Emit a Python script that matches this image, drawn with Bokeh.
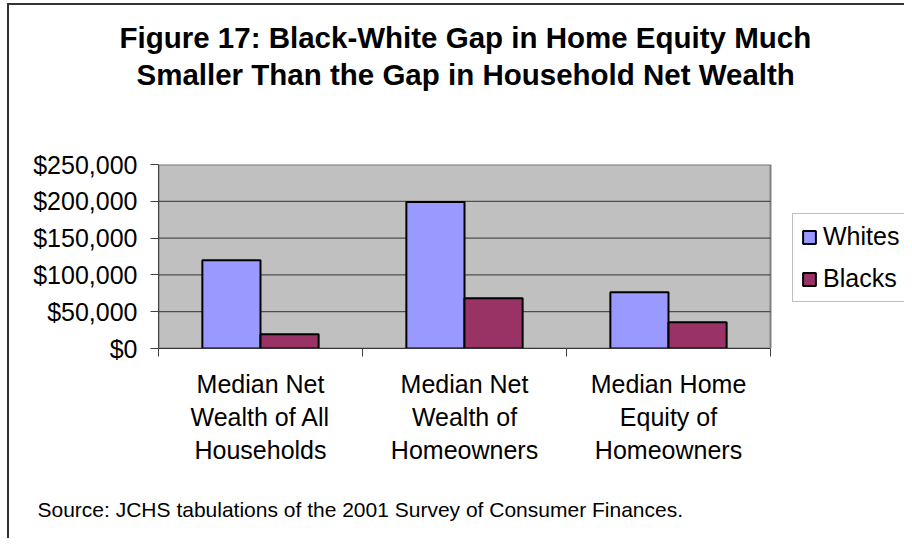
from bokeh.plotting import figure
from bokeh.models import (Range1d, FixedTicker, NumeralTickFormatter, Title,
                          ColumnDataSource, InlineStyleSheet)
from bokeh.transform import dodge
from bokeh.embed import file_html
from bokeh.resources import INLINE

# ---- data ----
categories = ["Median Net\nWealth of All\nHouseholds",
              "Median Net\nWealth of\nHomeowners",
              "Median Home\nEquity of\nHomeowners"]
series = ["Whites", "Blacks"]
whites = [120000, 199000, 76500]
blacks = [19400, 68400, 35700]
y_ticks = [0, 50000, 100000, 150000, 200000, 250000]
title_lines = ["Figure 17:  Black-White Gap in Home Equity Much",
               "Smaller Than the Gap in Household Net Wealth"]
source_note = "Source: JCHS tabulations of the 2001 Survey of Consumer Finances."

FONT = "Liberation Sans"
WHITE_COLOR = "#9999FF"
BLACK_COLOR = "#993366"

W, H = 904, 538
LEFT, PLOT_RIGHT, TOP, BOTTOM = 158, 770, 164, 348   # plot-area pixel box

n = len(categories)
y_max = y_ticks[-1]
x_pos = [i + 0.5 for i in range(n)]
bounds = list(range(n + 1))
# the frame runs to the right edge so the legend can sit beside the plot area
x_max = n * (W - LEFT) / (PLOT_RIGHT - LEFT)
src = ColumnDataSource(dict(x=x_pos, whites=whites, blacks=blacks))

p = figure(width=W, height=H, output_backend="svg", toolbar_location=None,
           x_range=Range1d(0, x_max), y_range=Range1d(0, y_max),
           min_border_left=LEFT, min_border_right=0,
           min_border_top=TOP, min_border_bottom=H - BOTTOM)

p.background_fill_color = "white"
p.border_fill_color = "white"
p.outline_line_color = None

# grey plot area
p.quad(left=[0], right=[n], bottom=[0], top=[y_max],
       fill_color="#C0C0C0", line_color="#808080", line_width=2)
# horizontal gridlines inside the plot area
inner = y_ticks[1:-1]
p.segment(x0=[0] * len(inner), x1=[n] * len(inner), y0=inner, y1=inner,
          line_color="#333333", line_width=1)

bw = 0.285
p.vbar(x=dodge("x", -bw / 2), top="whites", width=bw, source=src,
       fill_color=WHITE_COLOR, line_color="black", line_width=2,
       legend_label=series[0])
p.vbar(x=dodge("x", bw / 2), top="blacks", width=bw, source=src,
       fill_color=BLACK_COLOR, line_color="black", line_width=2,
       legend_label=series[1])

p.xgrid.visible = False
p.ygrid.visible = False

# y axis
ya = p.yaxis[0]
ya.ticker = FixedTicker(ticks=y_ticks)
ya.formatter = NumeralTickFormatter(format="$0,0")
ya.major_label_text_font = FONT
ya.major_label_text_font_size = "25px"
ya.major_label_text_color = "black"
ya.major_tick_in = 0
ya.major_tick_out = 8
ya.minor_tick_in = 0
ya.minor_tick_out = 0
ya.major_label_standoff = 13
ya.axis_line_color = "#404040"
ya.major_tick_line_color = "#404040"

# x axis
xa = p.xaxis[0]
xa.bounds = (0, n)
xa.ticker = FixedTicker(ticks=x_pos, minor_ticks=bounds)
xa.major_label_overrides = {x: c for x, c in zip(x_pos, categories)}
xa.major_label_text_font = FONT
xa.major_label_text_font_size = "25px"
xa.major_label_text_color = "black"
xa.major_label_text_line_height = 1.18
xa.major_tick_in = 0
xa.major_tick_out = 0
xa.minor_tick_in = 0
xa.minor_tick_out = 8
xa.minor_tick_line_color = "#404040"
xa.axis_line_color = "#333333"
xa.major_label_standoff = 13

# legend
lg = p.legend[0]
lg.location = (634, 46)
lg.orientation = "vertical"
lg.label_text_font = FONT
lg.label_text_font_size = "25px"
lg.label_text_color = "black"
lg.glyph_width = 16
lg.glyph_height = 16
lg.label_height = 26
lg.label_width = 120
lg.label_standoff = 6
lg.spacing = 13
lg.padding = 8
lg.margin = 0
lg.border_line_color = "#808080"
lg.border_line_width = 1
lg.background_fill_color = "white"
lg.background_fill_alpha = 1

# title: two lines stacked above a spacer (first added = nearest the plot)
p.title.text = ""
p.add_layout(Title(text=" ", text_font_size="1px", standoff=70), "above")
p.add_layout(Title(text=title_lines[1], align="left", offset=-22,
                   text_font=FONT, text_font_style="bold",
                   text_font_size="29.5px", text_color="black",
                   standoff=2), "above")
p.add_layout(Title(text=title_lines[0], align="left", offset=-39,
                   text_font=FONT, text_font_style="bold",
                   text_font_size="29.5px", text_color="black",
                   standoff=2), "above")

# source note below the axis (after a spacer)
p.add_layout(Title(text=" ", text_font_size="1px", standoff=26), "below")
p.add_layout(Title(text=source_note, align="left", offset=-121,
                   text_font=FONT, text_font_size="21px",
                   text_font_style="normal", text_color="black",
                   standoff=0), "below")

# chart-area border (left and top edges)
p.stylesheets = [InlineStyleSheet(css=(
    ":host::after { content: ''; position: absolute; left: 7px; top: 3px; "
    "width: calc(100% - 7px); height: calc(100% - 3px); "
    "border-left: 2px solid #333333; border-top: 2px solid #333333; "
    "box-sizing: border-box; pointer-events: none; z-index: 10; }"))]

open("out.html", "w").write(file_html(p, INLINE))
